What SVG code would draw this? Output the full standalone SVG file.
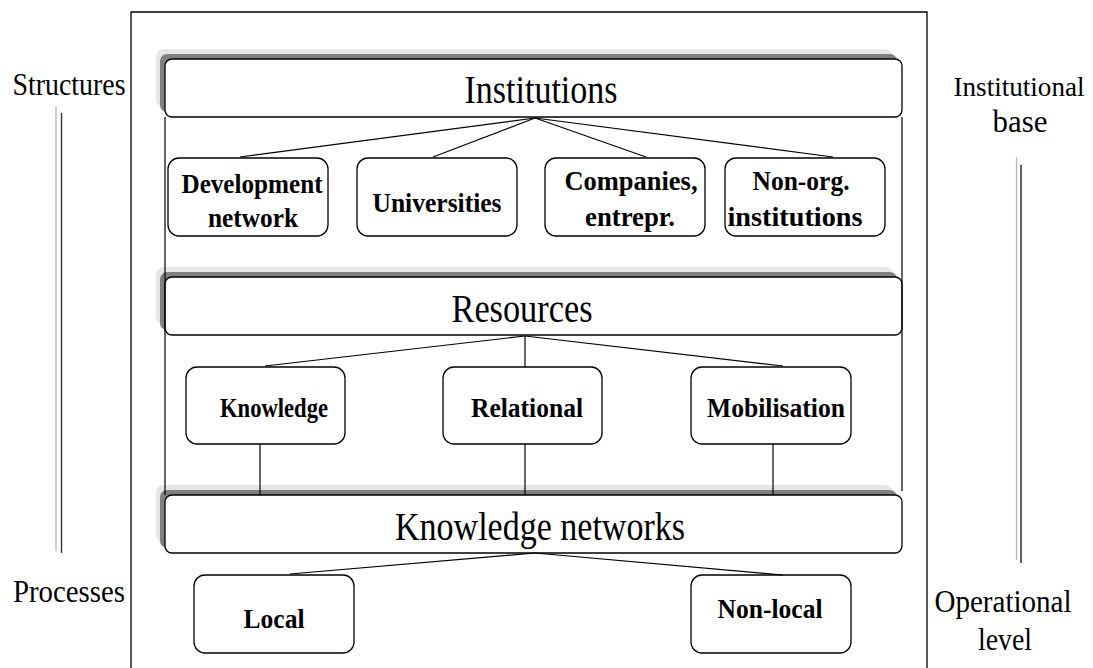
<svg xmlns="http://www.w3.org/2000/svg" width="1093" height="668" viewBox="0 0 1093 668">
<style>
.t{font-family:"Liberation Serif","Times New Roman",Times,serif;fill:#000}
.big{font-size:41px}
.side{font-size:31px}
.b{font-size:28px;font-weight:bold}
.box{fill:#fff;stroke:#000;stroke-width:1.3}
.sh1{fill:#e6e6e6}
.sh2{fill:#808080}
.ln{stroke:#000;stroke-width:1.2;fill:none}
</style>
<rect width="1093" height="668" fill="#fff"/>
<path d="M131,668 V12 H927 V668" fill="none" stroke="#000" stroke-width="1.3"/>
<g id="side-lines">
<line x1="56" y1="107" x2="56" y2="551" stroke="#b4b4b4" stroke-width="1.3"/>
<line x1="61.5" y1="113" x2="61.5" y2="553" stroke="#333" stroke-width="1.4"/>
<line x1="1016.5" y1="157" x2="1016.5" y2="560" stroke="#b4b4b4" stroke-width="1.3"/>
<line x1="1021" y1="165" x2="1021" y2="563" stroke="#222" stroke-width="1.4"/>
</g>
<g id="side-labels">
<text class="t side" x="69" y="95" text-anchor="middle" textLength="113" lengthAdjust="spacingAndGlyphs">Structures</text>
<text class="t side" x="69" y="602" text-anchor="middle" textLength="112" lengthAdjust="spacingAndGlyphs">Processes</text>
<text class="t" style="font-size:28px" x="1019" y="96" text-anchor="middle" textLength="131" lengthAdjust="spacingAndGlyphs">Institutional</text>
<text class="t side" x="1020" y="132" text-anchor="middle" textLength="55" lengthAdjust="spacingAndGlyphs">base</text>
<text class="t side" x="1003" y="612" text-anchor="middle" textLength="137" lengthAdjust="spacingAndGlyphs">Operational</text>
<text class="t side" x="1005" y="650" text-anchor="middle" textLength="54" lengthAdjust="spacingAndGlyphs">level</text>
</g>
<g id="institutions">
<rect class="sh1" x="156" y="49" width="737" height="58" rx="8"/>
<rect class="sh2" x="160" y="54" width="737" height="58" rx="7"/>
<rect class="box" x="165" y="59" width="737" height="58" rx="7"/>
<text class="t big" x="541" y="103" text-anchor="middle" textLength="153" lengthAdjust="spacingAndGlyphs">Institutions</text>
</g>
<g id="development-network">
<rect class="box" x="168" y="158" width="160" height="78" rx="11"/>
<text class="t b" x="252" y="193" text-anchor="middle" textLength="141" lengthAdjust="spacingAndGlyphs">Development</text>
<text class="t b" x="253" y="227" text-anchor="middle" textLength="90" lengthAdjust="spacingAndGlyphs">network</text>
</g>
<g id="universities">
<rect class="box" x="357" y="158" width="160" height="78" rx="11"/>
<text class="t b" x="437" y="212" text-anchor="middle" textLength="129" lengthAdjust="spacingAndGlyphs">Universities</text>
</g>
<g id="companies">
<rect class="box" x="545" y="158" width="160" height="78" rx="11"/>
<text class="t b" x="631" y="190" text-anchor="middle" textLength="133" lengthAdjust="spacingAndGlyphs">Companies,</text>
<text class="t b" x="630" y="226" text-anchor="middle" textLength="90" lengthAdjust="spacingAndGlyphs">entrepr.</text>
</g>
<g id="non-org-institutions">
<rect class="box" x="725" y="158" width="160" height="78" rx="11"/>
<text class="t b" x="801" y="190" text-anchor="middle" textLength="97" lengthAdjust="spacingAndGlyphs">Non-org.</text>
<text class="t b" x="795" y="226" text-anchor="middle" textLength="135" lengthAdjust="spacingAndGlyphs">institutions</text>
</g>
<g id="resources">
<rect class="sh1" x="156" y="267" width="737" height="58" rx="8"/>
<rect class="sh2" x="160" y="272" width="737" height="58" rx="7"/>
<rect class="box" x="165" y="277" width="737" height="58" rx="7"/>
<text class="t big" x="522" y="322" text-anchor="middle" textLength="141" lengthAdjust="spacingAndGlyphs">Resources</text>
</g>
<g id="knowledge">
<rect class="box" x="186" y="367" width="159" height="77" rx="11"/>
<text class="t b" x="274" y="417" text-anchor="middle" textLength="108" lengthAdjust="spacingAndGlyphs">Knowledge</text>
</g>
<g id="relational">
<rect class="box" x="443" y="367" width="159" height="77" rx="11"/>
<text class="t b" x="527" y="417" text-anchor="middle" textLength="112" lengthAdjust="spacingAndGlyphs">Relational</text>
</g>
<g id="mobilisation">
<rect class="box" x="691" y="367" width="160" height="77" rx="11"/>
<text class="t b" x="776" y="417" text-anchor="middle" textLength="138" lengthAdjust="spacingAndGlyphs">Mobilisation</text>
</g>
<g id="knowledge-networks">
<rect class="sh1" x="156" y="485" width="737" height="58" rx="8"/>
<rect class="sh2" x="160" y="490" width="737" height="58" rx="7"/>
<rect class="box" x="165" y="495" width="737" height="58" rx="7"/>
<text class="t big" x="540" y="540" text-anchor="middle" textLength="290" lengthAdjust="spacingAndGlyphs">Knowledge networks</text>
</g>
<g id="local">
<rect class="box" x="194" y="575" width="160" height="78" rx="11"/>
<text class="t b" x="274" y="628" text-anchor="middle" textLength="61" lengthAdjust="spacingAndGlyphs">Local</text>
</g>
<g id="non-local">
<rect class="box" x="691" y="575" width="160" height="78" rx="11"/>
<text class="t b" x="770" y="618" text-anchor="middle" textLength="105" lengthAdjust="spacingAndGlyphs">Non-local</text>
</g>
<g id="connectors">
<line class="ln" x1="165" y1="117" x2="165" y2="495"/>
<line class="ln" x1="902" y1="117" x2="902" y2="491"/>
<line class="ln" x1="535" y1="118" x2="240" y2="157"/>
<line class="ln" x1="535" y1="118" x2="433" y2="157"/>
<line class="ln" x1="535" y1="118" x2="646" y2="157"/>
<line class="ln" x1="535" y1="118" x2="833" y2="157"/>
<line class="ln" x1="525" y1="336" x2="265" y2="366"/>
<line class="ln" x1="525" y1="336" x2="525" y2="367"/>
<line class="ln" x1="525" y1="336" x2="783" y2="366"/>
<line class="ln" x1="260" y1="444" x2="260" y2="495"/>
<line class="ln" x1="525" y1="444" x2="525" y2="495"/>
<line class="ln" x1="773" y1="444" x2="773" y2="495"/>
<line class="ln" x1="535" y1="553" x2="290" y2="574"/>
<line class="ln" x1="535" y1="553" x2="783" y2="575"/>
</g>
</svg>
